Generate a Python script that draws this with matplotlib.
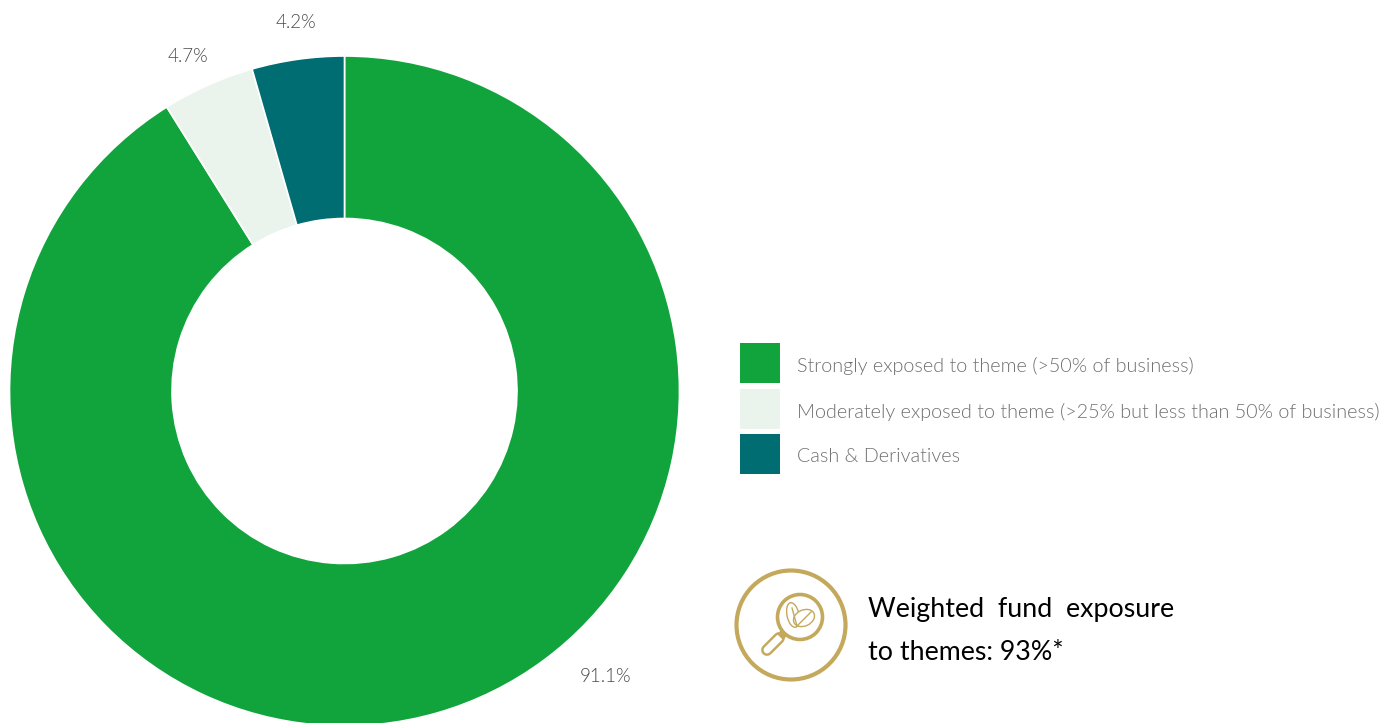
import matplotlib
matplotlib.use('Agg')
import matplotlib.pyplot as plt
from matplotlib.patches import Circle, Rectangle, Ellipse

# data
labels = ['Strongly exposed to theme (>50% of business)',
          'Moderately exposed to theme (>25% but less than 50% of business)',
          'Cash & Derivatives']
# slice sizes as drawn in the picture, the printed labels differ slightly
values = [91.1, 4.45, 4.45]
value_labels = ['91.1%', '4.7%', '4.2%']
colors = ['#11a43c', '#eaf4ec', '#006d72']
note_lines = ['Weighted  fund  exposure', 'to themes: 93%*']

GOLD = '#c4a95c'
W, H = 1383, 723

plt.rcParams['font.family'] = ['Lato', 'DejaVu Sans']

fig = plt.figure(figsize=(W / 100, H / 100), dpi=100)
ax = fig.add_axes([0, 0, 1, 1])


def py(y):
    # pixel rows from the top, axis runs from the bottom
    return H - y


# donut
ax.pie(values, colors=colors, startangle=90, counterclock=False,
       center=(344.5, py(391)), radius=335,
       wedgeprops=dict(width=335 - 172.5, edgecolor='white', linewidth=1.2))
ax.set_xlim(0, W)
ax.set_ylim(0, H)
ax.set_aspect('equal')
ax.axis('off')

# value labels
label_pos = [(606, 676), (188, 56), (296, 22)]
for txt, (x, y) in zip(value_labels, label_pos):
    ax.text(x, py(y), txt, fontsize=13.5, fontweight=300, color='#4a4a4a',
            ha='center', va='center')

# legend
legend_y = [343, 389, 434]
for lab, col, y in zip(labels, colors, legend_y):
    ax.add_patch(Rectangle((740, py(y + 40)), 40, 40, facecolor=col, edgecolor='none'))
    ax.text(797, py(y + 23), lab, fontsize=14.2, fontweight=300, color='#6f6f6f',
            ha='left', va='center')

# icon
ax.add_patch(Circle((791, py(625)), 54.5, fill=False, edgecolor=GOLD, linewidth=3))
ax.add_patch(Circle((800, py(617)), 22.5, fill=False, edgecolor=GOLD, linewidth=2.6))
ax.plot([779, 767], [py(638), py(650)], color=GOLD, linewidth=8.5, solid_capstyle='round')
ax.plot([779, 767], [py(638), py(650)], color='white', linewidth=5, solid_capstyle='round')
ax.plot([785, 780], [py(632), py(637)], color=GOLD, linewidth=6, solid_capstyle='butt')
ax.add_patch(Ellipse((793, py(615)), 12, 25, angle=12, fill=False, edgecolor=GOLD, linewidth=1))
ax.add_patch(Ellipse((804, py(618)), 22, 16, angle=25, facecolor='white', edgecolor=GOLD, linewidth=1))
ax.plot([792, 797], [py(608), py(626)], color=GOLD, linewidth=1)
ax.plot([797, 811], [py(626), py(612)], color=GOLD, linewidth=1)

# note
ax.text(868, py(610), note_lines[0], fontsize=19.3, color='black', ha='left', va='center')
ax.text(868, py(652), note_lines[1], fontsize=19.3, color='black', ha='left', va='center')

fig.savefig('out.png', dpi=100)
